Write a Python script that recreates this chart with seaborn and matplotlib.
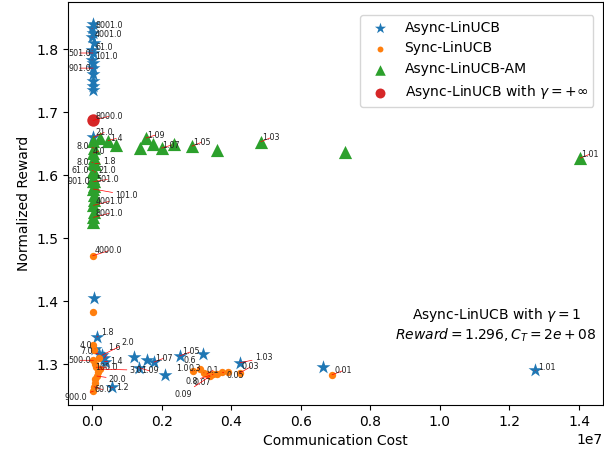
import numpy as np
import pandas as pd
import matplotlib
matplotlib.use("Agg")
import matplotlib.pyplot as plt
import seaborn as sns

# ---------------- data (cost in units of 1e7) ----------------
async_cost = [0.002, 0.000, 0.004, 0.000, 0.005, 0.000, 0.003, 0.000, 0.003, 0.003, 0.004, 0.002, 0.004, 0.002,
              0.004, 0.006, 0.014, 0.009, 0.020, 0.034, 0.036, 0.028, 0.057,
              0.120, 0.135, 0.157, 0.178, 0.210, 0.252, 0.318, 0.425, 0.663, 1.274]
async_reward = [1.840, 1.833, 1.826, 1.819, 1.810, 1.798, 1.794, 1.783, 1.778, 1.770, 1.760, 1.750, 1.742, 1.736,
                1.660, 1.405, 1.343, 1.324, 1.316, 1.309, 1.304, 1.314, 1.263,
                1.311, 1.294, 1.306, 1.303, 1.283, 1.313, 1.316, 1.302, 1.295, 1.290]
async_labels = ['', '8001.0', '', '4001.0', '', '61.0', '501.0', '101.0', '', '901.0', '', '', '', '',
                '21.0', '', '1.8', '4.0', '7.0', '1.6', '1.4', '2.0', '1.2',
                '', '1.09', '', '1.07', '', '1.05', '', '1.03', '', '1.01']

sync_cost = [0.002, 0.002, 0.004, 0.006, 0.004, 0.010, 0.012, 0.022, 0.016, 0.014, 0.010, 0.008, 0.006, 0.004, 0.020,
             0.290, 0.310, 0.322, 0.330, 0.338, 0.348, 0.340, 0.375, 0.425, 0.690, 0.360, 0.390]
sync_reward = [1.472, 1.382, 1.330, 1.322, 1.306, 1.300, 1.295, 1.292, 1.287, 1.281, 1.276, 1.270, 1.264, 1.257, 1.310,
               1.289, 1.292, 1.286, 1.284, 1.282, 1.284, 1.281, 1.287, 1.286, 1.283, 1.285, 1.287]
sync_labels = ['4000.0', '', '', '', '500.0', '', '100.0', '3.0', '', '20.0', '', '', '60.0', '900.0', '',
               '1.0', '0.6', '0.3', '0.1', '0.8', '0.07', '0.09', '0.05', '0.03', '0.01', '', '']

am_cost = [0.004, 0.006, 0.004, 0.006, 0.003, 0.008, 0.004, 0.007, 0.004, 0.003, 0.006, 0.005, 0.004, 0.006,
           0.004, 0.006, 0.004, 0.005, 0.003,
           0.023, 0.046, 0.069, 0.138, 0.155, 0.175, 0.200, 0.235, 0.287, 0.358, 0.485, 0.728, 1.403]
am_reward = [1.655, 1.643, 1.635, 1.627, 1.620, 1.618, 1.607, 1.605, 1.596, 1.590, 1.590, 1.582, 1.578, 1.568,
             1.552, 1.560, 1.533, 1.542, 1.526,
             1.659, 1.655, 1.648, 1.643, 1.659, 1.650, 1.643, 1.650, 1.646, 1.640, 1.653, 1.637, 1.627]
am_labels = ['', '8.0', '4.0', '', '8.0', '1.8', '61.0', '21.0', '', '901.0', '501.0', '', '101.0', '',
             '4001.0', '', '8001.0', '', '',
             '', '1.4', '', '', '1.09', '', '1.07', '', '1.05', '', '1.03', '', '1.01']

inf_cost = [0.003]
inf_reward = [1.687]
inf_labels = ['8000.0']

# ---------------- label layout (pixel offsets, dx, dy up) ----------------
async_off = [None, (3, 3), None, (3, 3), None, (3, 3), (-2, 0), (3, 3), None, (-2, 0), None, None, None, None,
             (2, 5), None, (4, 4), (-3, 3), (-6, 2), (4, 11), (6, 0), (20, 13), (4, 0),
             None, (2, -3), None, (1, 4), None, (2, 4), None, (15, 5), None, (3, 3)]
sync_off = [(2, 5), None, None, None, (-2, 0), None, (-1, 0), (30, -1), None, (12, -3), None, None, (0, -3), (-6, -6), None,
            (-4, 2), (-4, 9), (-3, 4), (0, 4), (-12, -6), (-2, -8), (-18, -18), (4, -3), (2, 6), (2, 4), None, None]
am_off = [None, (-5, 2), (-1, 2), None, (-4, 0), (8, 2), (-4, 0), (4, 2), None, (-3, 0), (2, 2), None, (22, -6), None,
          (2, 4), None, (2, 4), None, None,
          None, (2, 2), None, None, (1, 3), None, (1, 3), None, (1, 4), None, (1, 4), None, (1, 4)]
inf_off = [(2, 4)]

DPI = 100
fig = plt.figure(figsize=(6.04, 4.58), dpi=DPI)
ax = fig.add_axes([68 / 604, 1 - 405 / 458, (603 - 68) / 604, (405 - 2) / 458])

series = [
    ("Async-LinUCB", async_cost, async_reward, async_labels, async_off, '*', 110, '#1f77b4'),
    ("Sync-LinUCB", sync_cost, sync_reward, sync_labels, sync_off, 'o', 28, '#ff7f0e'),
    ("Async-LinUCB-AM", am_cost, am_reward, am_labels, am_off, '^', 90, '#2ca02c'),
    ("Async-LinUCB with $\\gamma = +\\infty$", inf_cost, inf_reward, inf_labels, inf_off, 'o', 80, '#d62728'),
]

for name, cost, rew, labs, offs, mk, size, col in series:
    df = pd.DataFrame({"cost": np.array(cost) * 1e7, "reward": rew})
    sns.scatterplot(data=df, x="cost", y="reward", marker=mk, s=size, color=col,
                    linewidth=0, label=name, ax=ax, zorder=2)

for name, cost, rew, labs, offs, mk, size, col in series:
    for c, r, lab, off in zip(cost, rew, labs, offs):
        if not lab:
            continue
        dx, dy = off
        ax.annotate(lab, xy=(c * 1e7, r), xytext=(dx * 72 / DPI, dy * 72 / DPI),
                    textcoords='offset points', fontsize=5.8,
                    ha='right' if dx < 0 and abs(dx) >= 2 else 'left', va='center', color='#222222',
                    arrowprops=dict(arrowstyle='-', color='red', lw=0.5, shrinkA=0, shrinkB=0),
                    zorder=5)

ax.text(1.162e7, 1.362, "Async-LinUCB with $\\gamma = 1$\n$Reward = 1.296, C_T = 2e+08$",
        ha='center', va='center', fontsize=10, multialignment='center')

ax.set_xlim(-0.069e7, 1.469e7)
ax.set_ylim(1.235, 1.875)
ax.set_xticks(np.arange(0, 1.41e7, 0.2e7))
ax.set_yticks([1.3, 1.4, 1.5, 1.6, 1.7, 1.8])
ax.set_xlabel("Communication Cost", fontsize=10)
ax.set_ylabel("Normalized Reward", fontsize=10)
ax.tick_params(labelsize=10)
ax.legend(loc='upper right', fontsize=10, markerscale=0.8, bbox_to_anchor=(0.995, 0.985))

fig.savefig("out.png", dpi=DPI)
